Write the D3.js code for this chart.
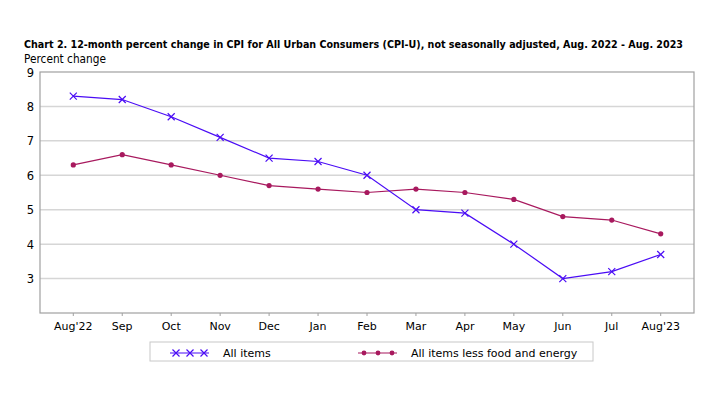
<!DOCTYPE html>
<html>
<head>
<meta charset="utf-8">
<script src="https://cdn.jsdelivr.net/npm/d3@7"></script>
<style>
  body { margin: 0; background: #fff; }
  text { font-family: "DejaVu Sans", Verdana, sans-serif; fill: #000; }
</style>
</head>
<body>
<svg id="chart" width="721" height="399"></svg>
<script>
'use strict';

// chart data
var months = ["Aug'22", "Sep", "Oct", "Nov", "Dec", "Jan", "Feb", "Mar", "Apr", "May", "Jun", "Jul", "Aug'23"];
var allItems = [8.3, 8.2, 7.7, 7.1, 6.5, 6.4, 6.0, 5.0, 4.9, 4.0, 3.0, 3.2, 3.7];
var coreItems = [6.3, 6.6, 6.3, 6.0, 5.7, 5.6, 5.5, 5.6, 5.5, 5.3, 4.8, 4.7, 4.3];
var yTicks = [3, 4, 5, 6, 7, 8, 9];
var seriesNames = ["All items", "All items less food and energy"];

var svg = d3.select('#chart');

// plot area
var plotLeft = 40, plotRight = 694, plotTop = 72, plotBottom = 313;
var blue = '#4a0cf5', maroon = '#a8195e';

var x = d3.scalePoint()
	.domain(months)
	.range([plotLeft, plotRight])
	.padding(0.68);
var y = d3.scaleLinear()
	.domain([2, 9])
	.range([plotBottom, plotTop]);

// title
svg.append('text')
	.attr('x', 24).attr('y', 48)
	.attr('textLength', 659).attr('lengthAdjust', 'spacingAndGlyphs')
	.style('font-size', '9.6px').style('font-weight', 'bold')
	.text('Chart 2. 12-month percent change in CPI for All Urban Consumers (CPI-U), not seasonally adjusted, Aug. 2022 - Aug. 2023');
svg.append('text')
	.attr('x', 24).attr('y', 63)
	.attr('textLength', 82).attr('lengthAdjust', 'spacingAndGlyphs')
	.style('font-size', '11.5px')
	.text('Percent change');

// gridlines
svg.append('g')
	.selectAll('line')
	.data(yTicks.filter(function(d) { return d < 9; }))
	.join('line')
	.attr('x1', plotLeft).attr('x2', plotRight)
	.attr('y1', function(d) { return y(d); })
	.attr('y2', function(d) { return y(d); })
	.attr('stroke', '#d6d6d6').attr('stroke-width', 1.5);

// frame
svg.append('rect')
	.attr('x', plotLeft).attr('y', plotTop)
	.attr('width', plotRight - plotLeft).attr('height', plotBottom - plotTop)
	.attr('fill', 'none').attr('stroke', '#a0a0a0').attr('stroke-width', 1.2);

// y labels
svg.append('g')
	.selectAll('text')
	.data(yTicks)
	.join('text')
	.attr('x', plotLeft - 6)
	.attr('y', function(d) { return y(d) + 4.5; })
	.attr('text-anchor', 'end')
	.style('font-size', '11.5px')
	.text(function(d) { return d; });

// x axis ticks and labels
var xAxis = svg.append('g');
xAxis.selectAll('line')
	.data(months)
	.join('line')
	.attr('x1', function(d) { return x(d); })
	.attr('x2', function(d) { return x(d); })
	.attr('y1', plotBottom).attr('y2', plotBottom + 3)
	.attr('stroke', '#a0a0a0');
xAxis.selectAll('text')
	.data(months)
	.join('text')
	.attr('x', function(d) { return x(d); })
	.attr('y', plotBottom + 17)
	.attr('text-anchor', 'middle')
	.style('font-size', '11px')
	.text(function(d) { return d; });

// lines
var line = d3.line()
	.x(function(d, i) { return x(months[i]); })
	.y(function(d) { return y(d); });

svg.append('path')
	.datum(coreItems)
	.attr('d', line)
	.attr('fill', 'none').attr('stroke', maroon).attr('stroke-width', 1.2);
svg.append('g')
	.selectAll('circle')
	.data(coreItems)
	.join('circle')
	.attr('cx', function(d, i) { return x(months[i]); })
	.attr('cy', function(d) { return y(d); })
	.attr('r', 2.6)
	.attr('fill', maroon);

svg.append('path')
	.datum(allItems)
	.attr('d', line)
	.attr('fill', 'none').attr('stroke', blue).attr('stroke-width', 1.2);

function cross(g, cx, cy) {
	g.append('path')
		.attr('d', 'M' + (cx - 3.5) + ',' + (cy - 3.5) + 'L' + (cx + 3.5) + ',' + (cy + 3.5) +
			'M' + (cx - 3.5) + ',' + (cy + 3.5) + 'L' + (cx + 3.5) + ',' + (cy - 3.5))
		.attr('stroke', blue).attr('stroke-width', 1.2);
}
var crosses = svg.append('g');
allItems.forEach(function(d, i) { cross(crosses, x(months[i]), y(d)); });

// legend
var legend = svg.append('g');
legend.append('rect')
	.attr('x', 150).attr('y', 342)
	.attr('width', 443).attr('height', 19)
	.attr('fill', '#fff').attr('stroke', '#c8c8c8');

var ly = 353;
legend.append('line')
	.attr('x1', 170).attr('x2', 209).attr('y1', ly).attr('y2', ly)
	.attr('stroke', blue).attr('stroke-width', 1.2);
[176, 190, 204].forEach(function(cx) { cross(legend, cx, ly); });
legend.append('text')
	.attr('x', 223).attr('y', ly + 4)
	.style('font-size', '11px')
	.text(seriesNames[0]);

legend.append('line')
	.attr('x1', 358).attr('x2', 397).attr('y1', ly).attr('y2', ly)
	.attr('stroke', maroon).attr('stroke-width', 1.2);
legend.selectAll('circle.lg')
	.data([364, 378, 392])
	.join('circle')
	.attr('cx', function(d) { return d; })
	.attr('cy', ly)
	.attr('r', 2.4)
	.attr('fill', maroon);
legend.append('text')
	.attr('x', 411).attr('y', ly + 4)
	.style('font-size', '11px')
	.text(seriesNames[1]);
</script>
</body>
</html>
